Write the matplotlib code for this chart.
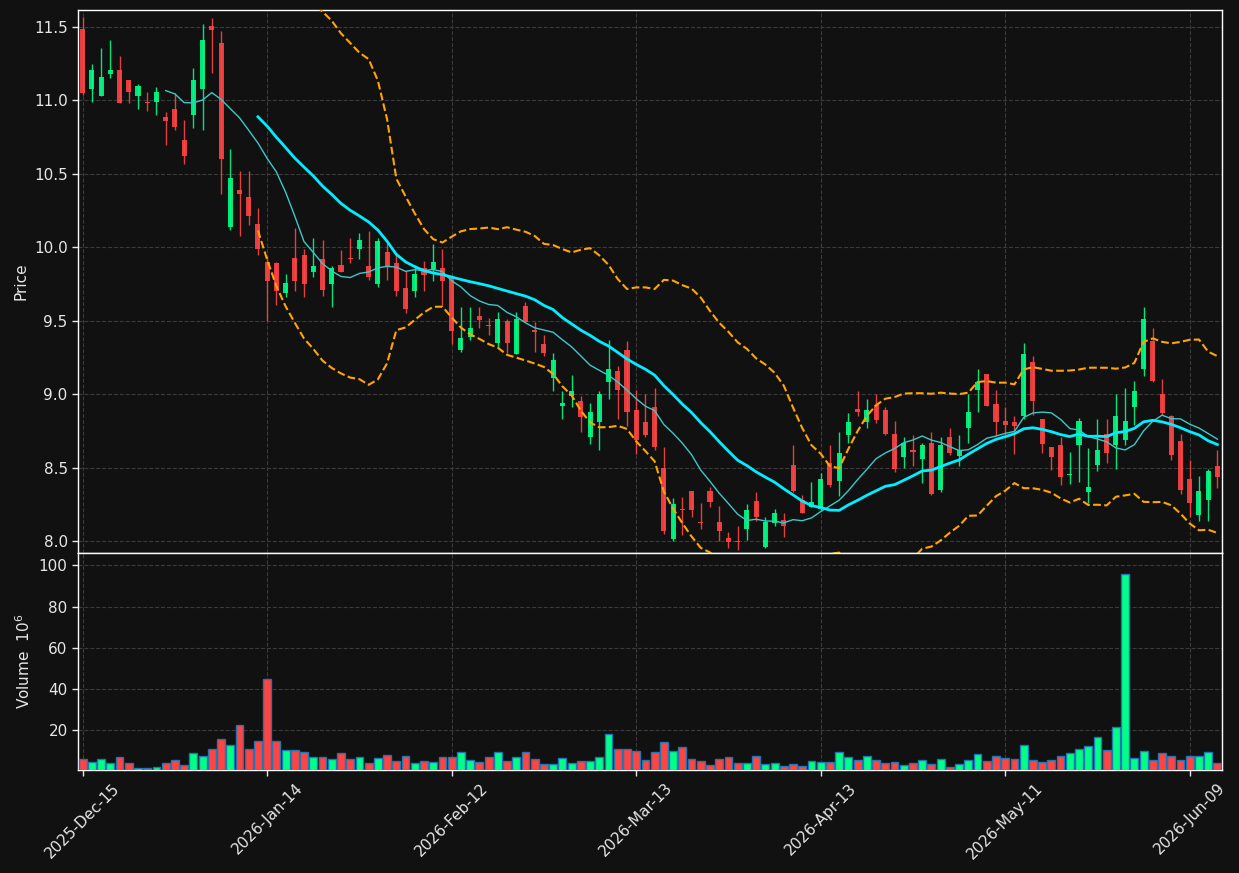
import matplotlib
matplotlib.use('Agg')
import matplotlib.pyplot as plt
import numpy as np
import pandas as pd

# daily OHLC, 124 trading days (2025-12-15 .. 2026-06-12)
opens = [11.49, 11.08, 11.03, 11.18, 11.21, 11.14, 11.03, 10.99, 10.99, 10.89,
         10.94, 10.73, 10.90, 11.08, 11.51, 11.39, 10.14, 10.39, 10.34, 10.16,
         9.90, 9.89, 9.69, 9.93, 9.95, 9.835, 9.92, 9.75, 9.88, 9.93,
         9.99, 9.87, 9.75, 9.97, 9.89, 9.72, 9.70, 9.86, 9.85, 9.86,
         9.80, 9.30, 9.39, 9.535, 9.466, 9.35, 9.50, 9.27, 9.60, 9.433,
         9.34, 9.11, 8.92, 8.99, 8.955, 8.71, 8.81, 9.08, 9.16, 9.30,
         8.89, 8.81, 8.91, 8.50, 8.01, 8.215, 8.34, 8.128, 8.34, 8.13,
         8.02, 7.998, 8.08, 8.27, 7.96, 8.12, 8.14, 8.52, 8.28, 8.23,
         8.22, 8.53, 8.41, 8.72, 8.90, 8.81, 8.925, 8.89, 8.73, 8.57,
         8.62, 8.56, 8.67, 8.345, 8.705, 8.58, 8.77, 9.03, 9.14, 8.93,
         8.82, 8.81, 8.85, 9.22, 8.83, 8.64, 8.65, 8.447, 8.65, 8.336,
         8.52, 8.73, 8.65, 8.69, 8.91, 9.17, 9.365, 9.00, 8.85, 8.68,
         8.42, 8.175, 8.28, 8.51]
highs = [11.57, 11.25, 11.36, 11.41, 11.30, 11.14, 11.11, 11.06, 11.09, 10.92,
         11.05, 10.87, 11.22, 11.52, 11.56, 11.47, 10.67, 10.52, 10.52, 10.27,
         9.94, 9.90, 9.82, 10.13, 9.99, 10.06, 10.05, 9.87, 9.98, 10.06,
         10.10, 10.11, 10.06, 10.03, 9.96, 9.84, 9.88, 9.91, 10.02, 9.99,
         9.81, 9.59, 9.59, 9.59, 9.52, 9.56, 9.51, 9.56, 9.63, 9.49,
         9.40, 9.28, 9.02, 9.13, 8.99, 8.94, 9.02, 9.37, 9.19, 9.36,
         9.03, 9.00, 9.04, 8.64, 8.29, 8.30, 8.34, 8.26, 8.365, 8.24,
         8.06, 8.10, 8.25, 8.33, 8.16, 8.22, 8.19, 8.65, 8.31, 8.40,
         8.46, 8.65, 8.74, 8.87, 9.02, 8.97, 9.00, 8.91, 8.82, 8.71,
         8.72, 8.67, 8.74, 8.71, 8.77, 8.72, 9.00, 9.17, 9.14, 9.03,
         8.91, 8.85, 9.35, 9.26, 8.83, 8.64, 8.71, 8.605, 8.84, 8.63,
         8.83, 8.83, 9.00, 9.04, 9.09, 9.59, 9.45, 9.10, 8.86, 8.73,
         8.55, 8.44, 8.49, 8.62]
lows = [11.04, 10.99, 11.03, 11.15, 10.98, 10.98, 10.94, 10.93, 10.90, 10.70,
        10.80, 10.57, 10.81, 10.80, 11.19, 10.36, 10.12, 10.08, 10.15, 9.95,
        9.50, 9.61, 9.66, 9.70, 9.66, 9.80, 9.67, 9.59, 9.83, 9.89,
        9.92, 9.78, 9.73, 9.78, 9.67, 9.55, 9.66, 9.70, 9.77, 9.61,
        9.34, 9.29, 9.37, 9.45, 9.40, 9.32, 9.28, 9.27, 9.49, 9.29,
        9.26, 9.02, 8.83, 8.91, 8.74, 8.66, 8.62, 8.97, 8.83, 8.78,
        8.59, 8.71, 8.62, 8.05, 8.00, 8.04, 8.16, 8.08, 8.23, 8.00,
        7.95, 7.94, 8.005, 8.135, 7.955, 8.10, 8.03, 8.33, 8.19, 8.23,
        8.21, 8.37, 8.305, 8.665, 8.85, 8.77, 8.80, 8.72, 8.47, 8.50,
        8.51, 8.395, 8.31, 8.33, 8.585, 8.51, 8.67, 8.88, 8.92, 8.72,
        8.71, 8.59, 8.83, 8.86, 8.60, 8.48, 8.38, 8.39, 8.40, 8.26,
        8.475, 8.53, 8.49, 8.65, 8.79, 9.12, 9.08, 8.86, 8.55, 8.32,
        8.16, 8.135, 8.135, 8.36]
closes = [11.05, 11.21, 11.16, 11.21, 10.98, 11.06, 11.10, 10.985, 11.06, 10.86,
          10.82, 10.62, 11.14, 11.41, 11.48, 10.60, 10.47, 10.36, 10.21, 9.99,
          9.77, 9.70, 9.76, 9.77, 9.75, 9.87, 9.71, 9.86, 9.83, 9.92,
          10.05, 9.80, 10.04, 9.87, 9.70, 9.58, 9.82, 9.81, 9.90, 9.77,
          9.43, 9.38, 9.45, 9.505, 9.462, 9.51, 9.35, 9.51, 9.49, 9.426,
          9.28, 9.23, 8.94, 9.02, 8.845, 8.88, 9.00, 9.17, 9.03, 8.88,
          8.69, 8.72, 8.64, 8.07, 8.25, 8.21, 8.21, 8.12, 8.265, 8.07,
          7.99, 7.994, 8.21, 8.16, 8.13, 8.19, 8.10, 8.34, 8.19, 8.265,
          8.42, 8.38, 8.60, 8.81, 8.88, 8.89, 8.825, 8.73, 8.49, 8.665,
          8.605, 8.65, 8.32, 8.65, 8.60, 8.62, 8.88, 9.085, 8.92, 8.81,
          8.79, 8.785, 9.27, 8.955, 8.66, 8.57, 8.435, 8.459, 8.82, 8.364,
          8.62, 8.60, 8.85, 8.82, 9.02, 9.51, 9.09, 8.87, 8.585, 8.345,
          8.26, 8.34, 8.475, 8.435]
volumes = [6.3, 4.8, 6.3, 4.3, 7.2, 4.3, 1.9, 1.9, 2.4, 4.3,
           5.8, 3.3, 8.85, 7.7, 11.1, 15.6, 13.05, 22.7, 10.8, 15.0,
           44.7, 15.0, 10.6, 10.6, 9.3, 7.2, 7.2, 6.3, 9.2, 6.3,
           7.2, 4.3, 6.7, 8.2, 5.3, 7.7, 4.3, 5.3, 4.8, 7.2,
           6.9, 9.3, 5.8, 4.8, 7.2, 9.3, 5.3, 7.2, 9.3, 6.3,
           3.8, 3.8, 6.7, 4.3, 5.3, 5.3, 7.2, 18.4, 10.8, 10.8,
           9.8, 5.8, 9.3, 14.2, 9.8, 11.8, 6.3, 5.3, 3.3, 6.3,
           7.2, 4.3, 4.3, 7.7, 3.8, 4.3, 2.9, 3.8, 2.9, 5.3,
           4.8, 4.8, 9.7, 7.2, 5.8, 7.7, 5.8, 4.3, 4.8, 3.3,
           4.3, 5.8, 3.8, 6.3, 2.2, 3.8, 5.8, 8.7, 5.3, 7.7,
           6.7, 6.3, 13.05, 5.8, 4.8, 5.8, 7.7, 9.2, 11.1, 12.6,
           16.9, 10.6, 21.8, 96.0, 6.7, 10.1, 5.8, 9.2, 7.7, 5.8,
           7.7, 7.7, 9.7, 4.3]  # millions
tick_pos = [0, 20, 40, 60, 80, 100, 120]
tick_labels = ['2025-Dec-15', '2026-Jan-14', '2026-Feb-12', '2026-Mar-13',
               '2026-Apr-13', '2026-May-11', '2026-Jun-09']

up_col = '#00ff88'
down_col = '#ff4444'
bg = '#111111'
txt = '#e6e6e6'
grid_col = '#3a3a3a'

df = pd.DataFrame({'o': opens, 'h': highs, 'l': lows, 'c': closes, 'v': volumes})
x = np.arange(len(df))
ma10 = df['c'].rolling(10).mean()
ma20 = df['c'].rolling(20).mean()
sd20 = df['c'].rolling(20).std(ddof=0)
bb_up = ma20 + 2 * sd20
bb_lo = ma20 - 2 * sd20

up = df['c'] >= df['o']
colors = np.where(up, up_col, down_col)

fig = plt.figure(figsize=(12.39, 8.73), dpi=100, facecolor=bg)
ax = fig.add_axes([0.0630, 0.3666, 0.9233, 0.6219])
axv = fig.add_axes([0.0630, 0.1180, 0.9233, 0.2486], sharex=ax)

for a in (ax, axv):
    a.set_facecolor(bg)
    for s in a.spines.values():
        s.set_color('white')
        s.set_linewidth(1.0)
    a.tick_params(colors=txt, labelsize=11, length=4, width=1)
    a.grid(True, linestyle='--', color=grid_col, linewidth=0.8)
    a.set_axisbelow(True)

# candles
ax.vlines(x, df['l'], df['h'], colors=colors, linewidth=1.0, alpha=0.9, zorder=2)
body_lo = np.minimum(df['o'], df['c'])
body_h = np.maximum(np.abs(df['c'] - df['o']), 0.008)
ax.bar(x, body_h, bottom=body_lo, width=0.55, color=colors, alpha=0.9,
       linewidth=0, zorder=3)

# indicators
ax.plot(x, ma10, color='#3cc8c8', linewidth=1.0, zorder=4)
ax.plot(x, ma20, color='#00eeff', linewidth=2.0, zorder=4)
ax.plot(x, bb_up, color='#ffa500', linestyle='--', linewidth=1.5, zorder=4)
ax.plot(x, bb_lo, color='#ffa500', linestyle='--', linewidth=1.5, zorder=4)

ax.set_ylim(7.918, 11.616)
ax.set_yticks(np.arange(8.0, 11.51, 0.5))
ax.set_yticklabels(['%.1f' % v for v in np.arange(8.0, 11.51, 0.5)])
ax.set_ylabel('Price', color=txt, fontsize=11)
ax.tick_params(axis='x', labelbottom=False)

# volume
axv.bar(x, df['v'], width=0.85, color=colors, edgecolor='#1f77b4', linewidth=1.0, zorder=3)
axv.set_ylim(0.8, 106)
axv.set_yticks([20, 40, 60, 80, 100])
axv.set_ylabel('Volume  $10^{6}$', color=txt, fontsize=11)

axv.set_xlim(-0.5, len(df) - 0.5)
axv.set_xticks(tick_pos)
axv.set_xticklabels(tick_labels, rotation=45, ha='center')

fig.savefig('out.png', dpi=100, facecolor=bg)
